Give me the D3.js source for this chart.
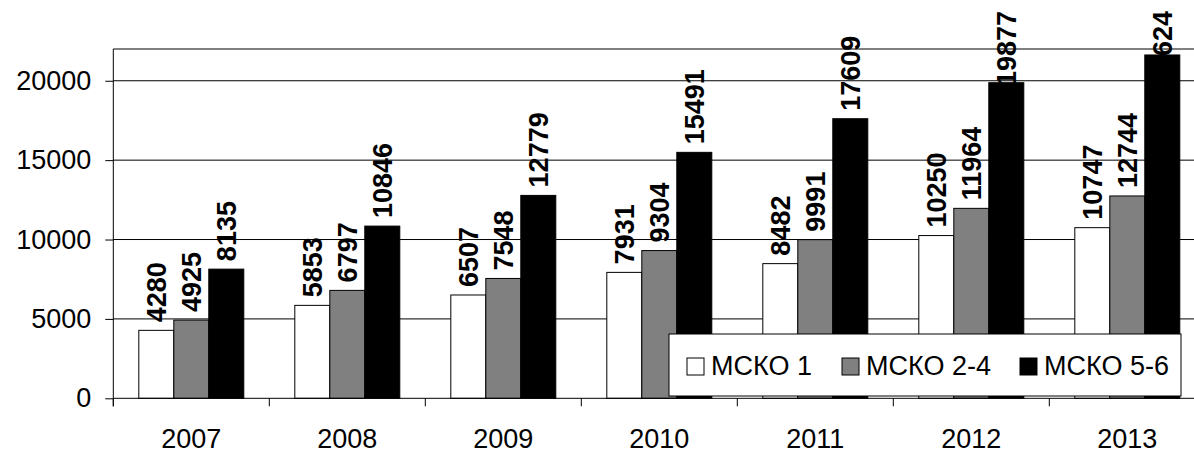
<!DOCTYPE html>
<html>
<head>
<meta charset="utf-8">
<script src="https://cdn.jsdelivr.net/npm/d3@7"></script>
<style>
  html, body { margin: 0; padding: 0; background: #fff; }
  svg { display: block; font-family: "Liberation Sans", Arial, sans-serif; }
</style>
</head>
<body>
<svg id="chart" width="1194" height="451"></svg>
<script>
// Categories and series
const years = ["2007", "2008", "2009", "2010", "2011", "2012", "2013"];
const seriesNames = ["МСКО 1", "МСКО 2-4", "МСКО 5-6"];
const msko1   = [4280, 5853, 6507, 7931, 8482, 10250, 10747];
const msko24  = [4925, 6797, 7548, 9304, 9991, 11964, 12744];
const msko56  = [8135, 10846, 12779, 15491, 17609, 19877, 21624];
const yTicks  = [0, 5000, 10000, 15000, 20000];
const yMax = 22000;

const seriesValues = [msko1, msko24, msko56];
const fills = ["#ffffff", "#808080", "#000000"];

const svg = d3.select("#chart");

// Plot area (it runs past the right edge of the canvas)
const plotLeft = 113.3, plotTop = 49, zeroY = 398.3;
const plotW = 1092;
const plotH = zeroY - plotTop;

const g = svg.append("g").attr("transform", `translate(${plotLeft},${plotTop})`);

const y = d3.scaleLinear().domain([0, yMax]).range([plotH, 0]);
const x0 = d3.scaleBand().domain(years).range([0, plotW])
  .paddingInner(0.327).paddingOuter(0.1635);
const x1 = d3.scaleBand().domain(seriesNames).range([0, x0.bandwidth()]);
const step = x0.step();

// Frame top and gridlines
g.append("line").attr("x1", 0).attr("x2", plotW).attr("y1", 0).attr("y2", 0)
  .attr("stroke", "#000").attr("stroke-width", 1);
g.selectAll(".grid").data(yTicks.filter(d => d > 0)).enter().append("line")
  .attr("x1", 0).attr("x2", plotW)
  .attr("y1", d => y(d)).attr("y2", d => y(d))
  .attr("stroke", "#000").attr("stroke-width", 1);

// Bars
const rows = [];
years.forEach((yr, i) => {
  seriesNames.forEach((s, j) => {
    rows.push({ year: yr, series: s, j, value: seriesValues[j][i] });
  });
});

g.selectAll(".bar").data(rows).enter().append("rect")
  .attr("x", d => x0(d.year) + x1(d.series))
  .attr("y", d => y(d.value))
  .attr("width", x1.bandwidth())
  .attr("height", d => plotH - y(d.value))
  .attr("fill", d => fills[d.j])
  .attr("stroke", "#000").attr("stroke-width", 1);

// Value labels, rotated, kept inside the top of the canvas
const labelFont = 27;
const charW = 0.556 * labelFont;
g.selectAll(".lbl").data(rows).enter().append("text")
  .attr("transform", d => {
    const cx = x0(d.year) + x1(d.series) + x1.bandwidth() / 2;
    const len = String(d.value).length * charW;
    const minStart = (11 - plotTop) + len;
    const start = Math.max(y(d.value) - 8, minStart);
    return `translate(${cx},${start}) rotate(-90)`;
  })
  .attr("dy", "0.35em")
  .attr("text-anchor", "start")
  .attr("font-size", labelFont)
  .attr("font-weight", "bold")
  .attr("fill", "#000")
  .text(d => d.value);

// Y axis
const yAxis = d3.axisLeft(y).tickValues(yTicks).tickSize(8).tickPadding(14)
  .tickFormat(d3.format("d"));
const ya = g.append("g").call(yAxis);
ya.select(".domain").remove();
ya.selectAll(".tick line").attr("stroke", "#000");
ya.selectAll(".tick text").attr("font-size", 27).attr("fill", "#000")
  .attr("font-family", "'Liberation Sans', Arial, sans-serif");
g.append("line").attr("x1", 0).attr("x2", 0).attr("y1", 0).attr("y2", plotH + 8)
  .attr("stroke", "#000").attr("stroke-width", 1);

// X axis: line, boundary ticks, year labels
g.append("line").attr("x1", 0).attr("x2", plotW).attr("y1", plotH).attr("y2", plotH)
  .attr("stroke", "#000").attr("stroke-width", 1);
g.selectAll(".xt").data(d3.range(years.length + 1)).enter().append("line")
  .attr("x1", i => i * step).attr("x2", i => i * step)
  .attr("y1", plotH).attr("y2", plotH + 8)
  .attr("stroke", "#000").attr("stroke-width", 1);
g.selectAll(".xl").data(years).enter().append("text")
  .attr("x", d => x0(d) + x0.bandwidth() / 2)
  .attr("y", plotH + 50)
  .attr("text-anchor", "middle")
  .attr("font-size", 27)
  .attr("fill", "#000")
  .text(d => d);

// Legend
const lg = svg.append("g").attr("transform", "translate(669,334)");
lg.append("rect").attr("x", 0).attr("y", 0).attr("width", 512).attr("height", 62)
  .attr("fill", "#fff").attr("stroke", "#000").attr("stroke-width", 1);
const legendX = [18, 173, 351];
seriesNames.forEach((s, j) => {
  const it = lg.append("g").attr("transform", `translate(${legendX[j]},0)`);
  it.append("rect").attr("x", 0).attr("y", 24).attr("width", 17).attr("height", 17)
    .attr("fill", fills[j]).attr("stroke", "#000").attr("stroke-width", 1);
  it.append("text").attr("x", 24).attr("y", 40.5)
    .attr("font-size", 27).attr("fill", "#000").text(s);
});
</script>
</body>
</html>
